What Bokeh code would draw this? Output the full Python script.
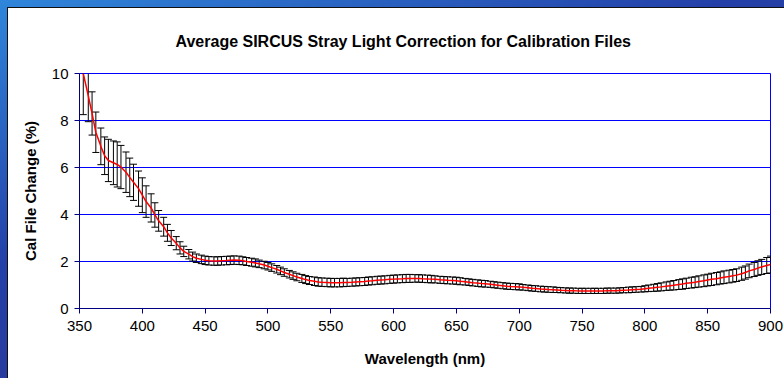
from bokeh.plotting import figure
from bokeh.models import Range1d, ColumnDataSource, Whisker, TeeHead, FixedTicker
from bokeh.embed import file_html
from bokeh.resources import INLINE

title_text = "Average SIRCUS Stray Light Correction for Calibration Files"
x_label = "Wavelength (nm)"
y_label = "Cal File Change (%)"
x_ticks = [350, 400, 450, 500, 550, 600, 650, 700, 750, 800, 850, 900]
y_ticks = [0, 2, 4, 6, 8, 10]

wavelength = [353, 357, 360, 363, 367, 370, 373, 377, 380, 383,
              387, 390, 393, 397, 400, 403, 407, 410, 413, 417,
              420, 423, 427, 430, 433, 437, 440, 443, 447, 450,
              453, 457, 460, 463, 467, 470, 473, 477, 480, 483,
              487, 490, 493, 497, 500, 503, 507, 510, 513, 517,
              520, 523, 527, 530, 533, 537, 540, 543, 547, 550,
              553, 557, 560, 563, 567, 570, 573, 577, 580, 583,
              587, 590, 593, 597, 600, 603, 607, 610, 613, 617,
              620, 623, 627, 630, 633, 637, 640, 643, 647, 650,
              653, 657, 660, 663, 667, 670, 673, 677, 680, 683,
              687, 690, 693, 697, 700, 703, 707, 710, 713, 717,
              720, 723, 727, 730, 733, 737, 740, 743, 747, 750,
              753, 757, 760, 763, 767, 770, 773, 777, 780, 783,
              787, 790, 793, 797, 800, 803, 807, 810, 813, 817,
              820, 823, 827, 830, 833, 837, 840, 843, 847, 850,
              853, 857, 860, 863, 867, 870, 873, 877, 880, 883,
              887, 890, 893, 897, 900]

mean_change = [10.0, 9.05, 8.3, 7.5, 6.9, 6.5, 6.3, 6.2, 6.13, 6.02,
               5.8, 5.58, 5.37, 5.1, 4.82, 4.55, 4.28, 3.98, 3.73, 3.48,
               3.22, 3.0, 2.78, 2.58, 2.43, 2.31, 2.21, 2.14, 2.09, 2.05,
               2.03, 2.02, 2.02, 2.03, 2.04, 2.05, 2.06, 2.05, 2.03, 2.0,
               1.97, 1.94, 1.9, 1.85, 1.8, 1.74, 1.67, 1.6, 1.53, 1.46,
               1.4, 1.34, 1.28, 1.23, 1.19, 1.16, 1.13, 1.12, 1.11, 1.1,
               1.1, 1.1, 1.11, 1.11, 1.12, 1.13, 1.14, 1.15, 1.17, 1.18,
               1.2, 1.21, 1.22, 1.24, 1.25, 1.26, 1.27, 1.28, 1.28, 1.28,
               1.28, 1.27, 1.26, 1.25, 1.24, 1.22, 1.21, 1.2, 1.19, 1.18,
               1.16, 1.14, 1.12, 1.1, 1.08, 1.06, 1.05, 1.03, 1.01, 0.99,
               0.97, 0.95, 0.94, 0.93, 0.92, 0.9, 0.88, 0.86, 0.85, 0.83,
               0.82, 0.81, 0.8, 0.79, 0.78, 0.77, 0.76, 0.76, 0.75, 0.75,
               0.75, 0.75, 0.75, 0.75, 0.75, 0.76, 0.76, 0.76, 0.77, 0.78,
               0.79, 0.8, 0.81, 0.82, 0.84, 0.86, 0.88, 0.9, 0.92, 0.95,
               0.97, 0.99, 1.02, 1.04, 1.07, 1.1, 1.12, 1.15, 1.18, 1.21,
               1.24, 1.27, 1.3, 1.33, 1.36, 1.39, 1.42, 1.48, 1.53, 1.6,
               1.66, 1.72, 1.77, 1.83, 1.87]

error = [1.75, 1.1, 0.92, 0.86, 0.78, 0.8, 0.9, 0.93, 0.96, 0.92,
         0.86, 0.82, 0.77, 0.75, 0.74, 0.67, 0.6, 0.52, 0.44, 0.4,
         0.36, 0.32, 0.28, 0.26, 0.22, 0.2, 0.19, 0.18, 0.18, 0.18,
         0.18, 0.18, 0.18, 0.18, 0.18, 0.18, 0.18, 0.18, 0.17, 0.17,
         0.17, 0.17, 0.16, 0.16, 0.16, 0.16, 0.16, 0.16, 0.16, 0.16,
         0.16, 0.16, 0.17, 0.17, 0.17, 0.18, 0.18, 0.18, 0.18, 0.18,
         0.18, 0.18, 0.18, 0.17, 0.17, 0.17, 0.17, 0.17, 0.17, 0.17,
         0.17, 0.17, 0.17, 0.17, 0.17, 0.17, 0.17, 0.17, 0.17, 0.16,
         0.16, 0.16, 0.16, 0.16, 0.15, 0.15, 0.15, 0.15, 0.15, 0.15,
         0.15, 0.14, 0.14, 0.14, 0.14, 0.14, 0.14, 0.13, 0.13, 0.13,
         0.13, 0.13, 0.13, 0.13, 0.13, 0.12, 0.12, 0.12, 0.12, 0.12,
         0.12, 0.12, 0.12, 0.11, 0.11, 0.11, 0.11, 0.11, 0.11, 0.11,
         0.11, 0.11, 0.11, 0.11, 0.11, 0.11, 0.11, 0.11, 0.11, 0.11,
         0.12, 0.12, 0.12, 0.12, 0.13, 0.14, 0.15, 0.16, 0.17, 0.18,
         0.19, 0.2, 0.21, 0.22, 0.22, 0.23, 0.23, 0.24, 0.25, 0.25,
         0.26, 0.26, 0.26, 0.27, 0.27, 0.27, 0.27, 0.28, 0.28, 0.29,
         0.3, 0.31, 0.32, 0.34, 0.36]

upper = [m + e for m, e in zip(mean_change, error)]
lower = [m - e for m, e in zip(mean_change, error)]
src = ColumnDataSource(dict(x=wavelength, y=mean_change, upper=upper, lower=lower))

FONT = "Liberation Sans"

slide_bg = ("linear-gradient(#ffffff, #ffffff) 8px 8px / 776px 370px no-repeat, "
            "linear-gradient(#101010, #101010) 7px 7px / 777px 371px no-repeat, "
            "linear-gradient(160deg, #2f86da 0%, #2440a8 40%, #2a3a9a 65%, #0f1f5a 100%)")

p = figure(width=784, height=378, output_backend="svg", toolbar_location=None,
           x_range=Range1d(350, 900), y_range=Range1d(0, 10),
           min_border_left=79, min_border_right=14, min_border_top=73, min_border_bottom=70,
           background_fill_color="white", border_fill_alpha=0,
           styles={"background": slide_bg})

p.title.text = title_text
p.title.align = "left"
p.title.text_font = FONT
p.title.text_font_size = "16px"
p.title.text_font_style = "bold"
p.title.text_color = "black"
p.title.offset = 96
p.title.standoff = 48

p.outline_line_color = "#0000FF"
p.outline_line_width = 1

p.xgrid.grid_line_color = None
p.ygrid.grid_line_color = "#0000FF"
p.ygrid.grid_line_width = 1
p.ygrid.ticker = FixedTicker(ticks=y_ticks)

p.xaxis.ticker = FixedTicker(ticks=x_ticks)
p.yaxis.ticker = FixedTicker(ticks=y_ticks)
for ax in (p.xaxis[0], p.yaxis[0]):
    ax.axis_line_color = "#000080"
    ax.axis_line_width = 1
    ax.major_tick_line_color = "#000080"
    ax.major_tick_out = 5
    ax.major_tick_in = 0
    ax.minor_tick_line_color = None
    ax.major_label_text_font = FONT
    ax.major_label_text_font_size = "15px"
    ax.major_label_text_color = "black"
    ax.axis_label_text_font = FONT
    ax.axis_label_text_font_size = "15px"
    ax.axis_label_text_font_style = "bold"
    ax.axis_label_text_color = "black"

p.xaxis.axis_label = x_label
p.yaxis.axis_label = y_label
p.xaxis.major_label_standoff = 7
p.xaxis.axis_label_standoff = 16
p.yaxis.major_label_standoff = 6
p.yaxis.axis_label_standoff = 10

wh = Whisker(source=src, base="x", upper="upper", lower="lower",
             line_color="black", line_width=1,
             upper_head=TeeHead(size=7, line_color="black", line_width=1),
             lower_head=TeeHead(size=7, line_color="black", line_width=1))
p.add_layout(wh)

p.line("x", "y", source=src, line_color="#FF0000", line_width=1.5)

open("out.html", "w").write(file_html(p, INLINE))
